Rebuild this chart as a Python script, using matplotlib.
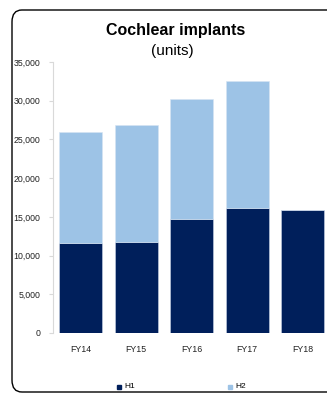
import matplotlib
matplotlib.use("Agg")
import matplotlib.pyplot as plt
from matplotlib.patches import FancyBboxPatch
from matplotlib.patches import Rectangle

categories = ["FY14", "FY15", "FY16", "FY17", "FY18"]
h1 = [11600, 11700, 14700, 16200, 15900]
h2 = [14400, 15100, 15500, 16400, 0]
yticks = [0, 5000, 10000, 15000, 20000, 25000, 30000, 35000]

W, H = 327, 396
fig = plt.figure(figsize=(W/100, H/100), dpi=100)
plt.rcParams['font.family'] = ['Liberation Sans', 'DejaVu Sans']

# rounded border
border = FancyBboxPatch((12/W, 4/H), 330/W, (392-10)/H,
                        boxstyle="round,pad=0,rounding_size=0.03",
                        transform=fig.transFigure, fill=False, lw=1.0,
                        edgecolor="black", clip_on=False)
fig.patches.append(border)

ax = fig.add_axes([53/W, (H-333)/H, (330.5-53)/W, (333-62)/H])
x = list(range(len(categories)))
c1 = "#001f5b"
c2 = "#9dc3e6"
ax.bar(x, h1, width=0.78, color=c1, edgecolor="#c8d4e6", linewidth=0.4)
ax.bar(x, h2, width=0.78, bottom=h1, color=c2, edgecolor="#d6e4f2", linewidth=0.4)
ax.set_xlim(-0.5, 4.5)
ax.set_ylim(0, 35000)
ax.set_yticks(yticks)
ax.set_yticklabels([f"{v:,}" for v in yticks], fontsize=6.3, color="#222222")
ax.set_xticks(x)
ax.set_xticklabels(categories, fontsize=6.3, color="#222222")
for s in ["top", "right", "bottom"]:
    ax.spines[s].set_visible(False)
ax.spines["left"].set_color("#d9d9d9")
ax.spines["left"].set_linewidth(0.8)
ax.tick_params(axis="y", length=3, color="#d9d9d9", pad=6)
ax.tick_params(axis="x", length=0, pad=9)

fig.text(176/W, 1 - 30/H, "Cochlear implants", ha="center", va="center",
         fontsize=11.5, fontweight="bold")
fig.text(172/W, 1 - 51/H, "(units)", ha="center", va="center", fontsize=11)

# legend
fig.patches.append(Rectangle((117/W, 1 - 389/H), 4/W, 4/H, transform=fig.transFigure,
                             color=c1))
fig.text(124/W, 1 - 387/H, "H1", fontsize=6, va="center", ha="left")
fig.patches.append(Rectangle((228/W, 1 - 389/H), 4/W, 4/H, transform=fig.transFigure,
                             color=c2))
fig.text(235/W, 1 - 387/H, "H2", fontsize=6, va="center", ha="left")

fig.savefig("out.png", dpi=100)
